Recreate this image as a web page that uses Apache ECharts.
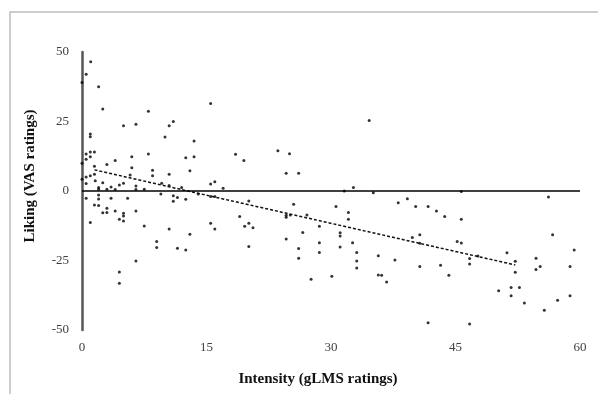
<!DOCTYPE html>
<html>
<head>
<meta charset="utf-8">
<script src="https://cdn.jsdelivr.net/npm/echarts@6/dist/echarts.min.js"></script>
<style>html,body{margin:0;padding:0;background:#fff}#c{width:598px;height:394px}</style>
</head>
<body>
<div id="c"></div>
<script>
var intensity = [1.05,0.5,0,2,2.5,8,15.5,1,1,5,6.5,10.5,11,10,13.5,12.5,13.5,13,18.5,8,6,6,4,3,1.5,0.5,0.5,1,1,1.5,0,0.5,0.5,0,1,1.5,1.6,2,2,2.5,3,3.5,4,4.5,5,5.8,6.5,6.5,7.5,8.5,8.5,9.6,10.5,10.5,12,15.5,16,17,
19.5,23.6,25,24.6,26.1,34.6,32.7,31.6,35.1,
0.5,1,1.5,2,2,2,2.5,3,3,3.5,4,4.5,5,5,5,5.5,6.5,4.5,4.5,6.5,7.5,9,9,9.5,10.5,11,11,11.5,11.5,12.5,12.5,13,14,15.5,15.5,16,16,19,
20.1,19.6,20.1,20.6,20.1,24.6,24.6,25.1,25.5,24.6,26.1,26.1,26.6,27.1,27.6,28.6,28.6,28.6,30.1,30.6,31.1,31.1,31.1,32.1,32.1,32.6,33.1,33.1,33.1,35.7,35.7,36.1,36.7,37.7,38.1,39.2,
40.2,41.7,42.7,43.7,45.7,45.7,39.8,40.7,40.7,40.7,43.2,44.2,41.7,45.2,45.7,46.7,46.7,47.7,46.7,50.2,51.2,51.7,52.7,51.7,52.2,52.2,53.3,54.7,54.7,55.2,55.7,56.2,56.7,57.3,58.8,58.8,59.3];
var liking = [46.5,42,39,37.5,29.5,28.7,31.5,20.5,19.5,23.5,24,23.5,25,19.4,18,12,12.3,7.3,13.2,13.3,12.3,8.4,11,9.5,8.9,13.3,11.4,14,12.3,14,10,5,2.7,4.2,5.5,6,3.7,1.3,0.6,3,0.6,1.4,0.5,2.2,2.8,5.8,1.8,0.5,0.6,7.5,5.5,2.8,6,2,1.3,2.5,3.3,1,
11,14.5,13.4,6.4,6.4,25.4,1.3,0,-0.6,
-2.6,-11.3,-5,-2.9,-1.4,-5.2,-7.8,-6.2,-7.7,-2.6,-7.2,-10.2,-8,-9,-10.8,-2.6,-7.2,-29.1,-33.2,-25.2,-12.6,-18.2,-20.3,-1.1,-13.7,-1.7,-3.7,-2.3,-20.6,-21.2,-3,-15.6,-1.1,-2,-11.6,-2,-13.7,-9.2,
-3.6,-12.7,-11.6,-13.2,-20,-8.7,-9.4,-8.6,-4.8,-17.3,-20.7,-24.2,-14.9,-8.6,-31.7,-12.7,-18.6,-22.1,-30.7,-5.6,-15,-16.2,-20.1,-7.7,-10.2,-18.6,-22.1,-25.2,-27.7,-23.3,-30.2,-30.3,-32.7,-24.8,-4.2,-2.8,
-5.6,-5.6,-7.2,-9.2,-10.2,-0.2,-16.7,-15.7,-18.8,-27.2,-26.7,-30.3,-47.4,-18.2,-18.7,-24.3,-26.3,-23.4,-47.8,-35.9,-22.2,-34.7,-34.7,-37.7,-25.3,-29.2,-40.3,-24.2,-28.2,-27.2,-42.9,-2.2,-15.7,-39.3,-27.2,-37.7,-21.2];
var trendX = [1.5, 52.2];
var trendY = [7.6, -26.6];
var xTicks = [0, 15, 30, 45, 60];
var yTicks = [-50, -25, 0, 25, 50];
var xTitle = 'Intensity (gLMS ratings)';
var yTitle = 'Liking (VAS ratings)';

var pts = intensity.map(function (x, i) { return [x, liking[i]]; });
var trend = trendX.map(function (x, i) { return [x, trendY[i]]; });
var serif = '"Liberation Serif", "DejaVu Serif", serif';

var chart = echarts.init(document.getElementById('c'), null, { renderer: 'canvas' });
chart.setOption({
  animation: false,
  backgroundColor: '#fff',
  grid: { left: 82, right: 18, top: 52, bottom: 64 },
  xAxis: {
    type: 'value', min: xTicks[0], max: xTicks[xTicks.length - 1], interval: 15,
    axisLine: { show: false }, axisTick: { show: false }, splitLine: { show: false },
    axisLabel: { fontFamily: serif, fontSize: 13, color: '#404040', margin: 11 }
  },
  yAxis: {
    type: 'value', min: yTicks[0], max: yTicks[yTicks.length - 1], interval: 25,
    axisLine: { show: true, onZero: false, lineStyle: { color: '#555', width: 2.5 } },
    axisTick: { show: false }, splitLine: { show: false },
    axisLabel: { fontFamily: serif, fontSize: 13, color: '#404040', margin: 13 }
  },
  graphic: [
    { type: 'rect', shape: { x: 10, y: 12, width: 700, height: 500 }, style: { fill: 'none', stroke: '#bdbdbd', lineWidth: 1.5 }, silent: true, z: -10 },
    { type: 'text', x: 318, y: 379, style: { text: xTitle, font: 'bold 15px ' + serif, fill: '#111', textAlign: 'center', textVerticalAlign: 'middle' } },
    { type: 'text', x: 30, y: 176, rotation: Math.PI / 2, style: { text: yTitle, font: 'bold 15px ' + serif, fill: '#111', textAlign: 'center', textVerticalAlign: 'middle' } }
  ],
  series: [
    {
      type: 'scatter', data: pts, symbol: 'circle', symbolSize: 3,
      itemStyle: { color: '#000' }, z: 3,
      markLine: {
        silent: true, symbol: 'none', label: { show: false },
        lineStyle: { color: '#000', width: 1.6, type: 'solid' },
        data: [{ yAxis: 0 }]
      }
    },
    {
      type: 'line', data: trend, symbol: 'none',
      lineStyle: { color: '#111', width: 1.5, type: [3, 2] }, z: 4
    }
  ]
});
</script>
</body>
</html>
